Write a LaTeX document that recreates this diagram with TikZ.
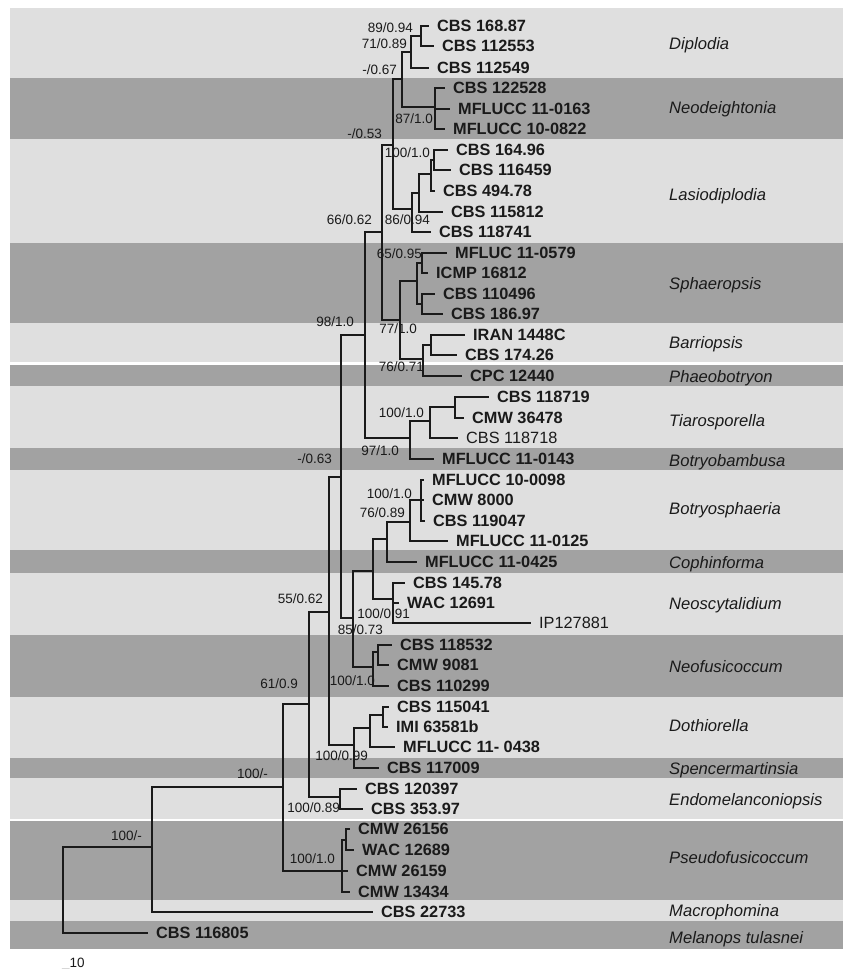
\documentclass[tikz,border=0pt]{standalone}
\usepackage{fontspec}
\setmainfont{Liberation Sans}
\definecolor{bandlight}{HTML}{DFDFDF}
\definecolor{banddark}{HTML}{A2A2A2}
\definecolor{ink}{HTML}{1A1A1A}

\begin{document}
\begin{tikzpicture}[x=1pt, y=-1pt,
  branch/.style={draw=ink, line width=1.3pt},
  taxon/.style={anchor=west, inner xsep=8pt, inner ysep=0pt, text=ink,
    font=\fontsize{16.3}{17}\selectfont\bfseries},
  plain/.style={taxon, font=\fontsize{16.3}{17}\selectfont},
  support/.style={anchor=base east, inner sep=0pt, text=ink,
    font=\fontsize{13.5}{15}\selectfont},
  genus/.style={anchor=base west, inner sep=0pt, text=ink,
    font=\fontsize{16.6}{18}\selectfont\itshape}]
 \useasboundingbox (0,0) rectangle (843,969);
 % bands
 \fill[bandlight] (10,8) rectangle (843,78);
 \fill[banddark] (10,78) rectangle (843,139);
 \fill[bandlight] (10,139) rectangle (843,243);
 \fill[banddark] (10,243) rectangle (843,323);
 \fill[bandlight] (10,323) rectangle (843,362);
 \fill[banddark] (10,364.5) rectangle (843,386);
 \fill[bandlight] (10,386) rectangle (843,448);
 \fill[banddark] (10,448) rectangle (843,470);
 \fill[bandlight] (10,470) rectangle (843,550);
 \fill[banddark] (10,550) rectangle (843,573);
 \fill[bandlight] (10,573) rectangle (843,635);
 \fill[banddark] (10,635) rectangle (843,697);
 \fill[bandlight] (10,697) rectangle (843,758);
 \fill[banddark] (10,758) rectangle (843,778);
 \fill[bandlight] (10,778) rectangle (843,819);
 \fill[banddark] (10,821) rectangle (843,900);
 \fill[bandlight] (10,900) rectangle (843,921);
 \fill[banddark] (10,921) rectangle (843,949);

 % genera
 \node[genus] (diplodia) at (669,49) {Diplodia};
 \node[genus] (neodeightonia) at (669,113) {Neodeightonia};
 \node[genus] (lasiodiplodia) at (669,200) {Lasiodiplodia};
 \node[genus] (sphaeropsis) at (669,289) {Sphaeropsis};
 \node[genus] (barriopsis) at (669,348) {Barriopsis};
 \node[genus] (phaeobotryon) at (669,382) {Phaeobotryon};
 \node[genus] (tiarosporella) at (669,426) {Tiarosporella};
 \node[genus] (botryobambusa) at (669,466) {Botryobambusa};
 \node[genus] (botryosphaeria) at (669,514) {Botryosphaeria};
 \node[genus] (cophinforma) at (669,568) {Cophinforma};
 \node[genus] (neoscytalidium) at (669,609) {Neoscytalidium};
 \node[genus] (neofusicoccum) at (669,672) {Neofusicoccum};
 \node[genus] (dothiorella) at (669,731) {Dothiorella};
 \node[genus] (spencermartinsia) at (669,774) {Spencermartinsia};
 \node[genus] (endomelanconiopsis) at (669,805) {Endomelanconiopsis};
 \node[genus] (pseudofusicoccum) at (669,863) {Pseudofusicoccum};
 \node[genus] (macrophomina) at (669,916) {Macrophomina};
 \node[genus] (melanops) at (669,943) {Melanops tulasnei};

 % strains
 \node[taxon] (d1) at (429,26) {CBS 168.87};
 \node[taxon] (d2) at (434,46) {CBS 112553};
 \node[taxon] (d3) at (429,68) {CBS 112549};
 \node[taxon] (nd1) at (445,88) {CBS 122528};
 \node[taxon] (nd2) at (450,109) {MFLUCC 11-0163};
 \node[taxon] (nd3) at (445,129) {MFLUCC 10-0822};
 \node[taxon] (la1) at (448,150) {CBS 164.96};
 \node[taxon] (la2) at (451,170) {CBS 116459};
 \node[taxon] (la3) at (435,191) {CBS 494.78};
 \node[taxon] (la4) at (443,212) {CBS 115812};
 \node[taxon] (la5) at (431,232) {CBS 118741};
 \node[taxon] (sp1) at (447,253) {MFLUC 11-0579};
 \node[taxon] (sp2) at (428,273) {ICMP 16812};
 \node[taxon] (sp3) at (435,294) {CBS 110496};
 \node[taxon] (sp4) at (443,314) {CBS 186.97};
 \node[taxon] (ba1) at (465,335) {IRAN 1448C};
 \node[taxon] (ba2) at (457,355) {CBS 174.26};
 \node[taxon] (ph1) at (462,376) {CPC 12440};
 \node[taxon] (ti1) at (489,397) {CBS 118719};
 \node[taxon] (ti2) at (464,418) {CMW 36478};
 \node[plain] (ti3) at (458,438) {CBS 118718};
 \node[taxon] (bb1) at (434,459) {MFLUCC 11-0143};
 \node[taxon] (bo1) at (424,480) {MFLUCC 10-0098};
 \node[taxon] (bo2) at (424,500) {CMW 8000};
 \node[taxon] (bo3) at (425,521) {CBS 119047};
 \node[taxon] (bo4) at (448,541) {MFLUCC 11-0125};
 \node[taxon] (co1) at (417,562) {MFLUCC 11-0425};
 \node[taxon] (ns1) at (405,583) {CBS 145.78};
 \node[taxon] (ns2) at (399,603) {WAC 12691};
 \node[plain] (ns3) at (531,623) {IP127881};
 \node[taxon] (nf1) at (392,645) {CBS 118532};
 \node[taxon] (nf2) at (389,665) {CMW 9081};
 \node[taxon] (nf3) at (389,686) {CBS 110299};
 \node[taxon] (do1) at (389,707) {CBS 115041};
 \node[taxon] (do2) at (388,727) {IMI 63581b};
 \node[taxon] (do3) at (395,747) {MFLUCC 11- 0438};
 \node[taxon] (sm1) at (379,768) {CBS 117009};
 \node[taxon] (en1) at (357,789) {CBS 120397};
 \node[taxon] (en2) at (363,809) {CBS 353.97};
 \node[taxon] (ps1) at (350,829) {CMW 26156};
 \node[taxon] (ps2) at (354,850) {WAC 12689};
 \node[taxon] (ps3) at (348,871) {CMW 26159};
 \node[taxon] (ps4) at (350,892) {CMW 13434};
 \node[taxon] (ma1) at (373,912) {CBS 22733};
 \node[taxon] (me1) at (148,933) {CBS 116805};

 % internal nodes
 \coordinate (dipB) at (421,36);
 \coordinate (dipA) at (411,52);
 \coordinate (neod) at (435,107);
 \coordinate (dipneo) at (402,79);
 \coordinate (lasD) at (434,160);
 \coordinate (lasC) at (431,174);
 \coordinate (lasB) at (419,193);
 \coordinate (lasA) at (412,209);
 \coordinate (upA) at (393,145);
 \coordinate (sphB) at (422,263);
 \coordinate (sphC) at (422,304);
 \coordinate (sphA) at (417,281);
 \coordinate (barB) at (431,345);
 \coordinate (barA) at (423,359);
 \coordinate (sphbar) at (400,320);
 \coordinate (up) at (382,232);
 \coordinate (tiaB) at (455,407);
 \coordinate (tiaA) at (430,421);
 \coordinate (tiabb) at (410,438);
 \coordinate (top) at (365,335);
 \coordinate (botB) at (421,500);
 \coordinate (botA) at (410,522);
 \coordinate (botcop) at (387,539);
 \coordinate (neos) at (393,599);
 \coordinate (mid) at (373,571);
 \coordinate (nfB) at (378,652);
 \coordinate (nfA) at (373,667);
 \coordinate (nine) at (353,618);
 \coordinate (core) at (341,477);
 \coordinate (dotB) at (383,715);
 \coordinate (dotA) at (370,728);
 \coordinate (dotsm) at (354,745);
 \coordinate (core2) at (329,612);
 \coordinate (endo) at (340,797);
 \coordinate (core3) at (309,704);
 \coordinate (pseB) at (346,840);
 \coordinate (pseA) at (342,871);
 \coordinate (core4) at (283,787);
 \coordinate (ingroup) at (152,847);
 \coordinate (root) at (63,890);

 % branches
 \draw[branch] (dipB) |- (d1.west) (dipB) |- (d2.west);
 \draw[branch] (dipA) |- (dipB) (dipA) |- (d3.west);
 \draw[branch] (neod) |- (nd1.west) (neod) |- (nd2.west) (neod) |- (nd3.west);
 \draw[branch] (dipneo) |- (dipA) (dipneo) |- (neod);
 \draw[branch] (lasD) |- (la1.west) (lasD) |- (la2.west);
 \draw[branch] (lasC) |- (lasD) (lasC) |- (la3.west);
 \draw[branch] (lasB) |- (lasC) (lasB) |- (la4.west);
 \draw[branch] (lasA) |- (lasB) (lasA) |- (la5.west);
 \draw[branch] (upA) |- (dipneo) (upA) |- (lasA);
 \draw[branch] (sphB) |- (sp1.west) (sphB) |- (sp2.west);
 \draw[branch] (sphC) |- (sp3.west) (sphC) |- (sp4.west);
 \draw[branch] (sphA) |- (sphB) (sphA) |- (sphC);
 \draw[branch] (barB) |- (ba1.west) (barB) |- (ba2.west);
 \draw[branch] (barA) |- (barB) (barA) |- (ph1.west);
 \draw[branch] (sphbar) |- (sphA) (sphbar) |- (barA);
 \draw[branch] (up) |- (upA) (up) |- (sphbar);
 \draw[branch] (tiaB) |- (ti1.west) (tiaB) |- (ti2.west);
 \draw[branch] (tiaA) |- (tiaB) (tiaA) |- (ti3.west);
 \draw[branch] (tiabb) |- (tiaA) (tiabb) |- (bb1.west);
 \draw[branch] (top) |- (up) (top) |- (tiabb);
 \draw[branch] (botB) |- (bo1.west) (botB) |- (bo2.west) (botB) |- (bo3.west);
 \draw[branch] (botA) |- (botB) (botA) |- (bo4.west);
 \draw[branch] (botcop) |- (botA) (botcop) |- (co1.west);
 \draw[branch] (neos) |- (ns1.west) (neos) |- (ns2.west) (neos) |- (ns3.west);
 \draw[branch] (mid) |- (botcop) (mid) |- (neos);
 \draw[branch] (nfB) |- (nf1.west) (nfB) |- (nf2.west);
 \draw[branch] (nfA) |- (nfB) (nfA) |- (nf3.west);
 \draw[branch] (nine) |- (mid) (nine) |- (nfA);
 \draw[branch] (core) |- (top) (core) |- (nine);
 \draw[branch] (dotB) |- (do1.west) (dotB) |- (do2.west);
 \draw[branch] (dotA) |- (dotB) (dotA) |- (do3.west);
 \draw[branch] (dotsm) |- (dotA) (dotsm) |- (sm1.west);
 \draw[branch] (core2) |- (core) (core2) |- (dotsm);
 \draw[branch] (endo) |- (en1.west) (endo) |- (en2.west);
 \draw[branch] (core3) |- (core2) (core3) |- (endo);
 \draw[branch] (pseB) |- (ps1.west) (pseB) |- (ps2.west);
 \draw[branch] (pseA) |- (pseB) (pseA) |- (ps3.west) (pseA) |- (ps4.west);
 \draw[branch] (core4) |- (core3) (core4) |- (pseA);
 \draw[branch] (ingroup) |- (core4) (ingroup) |- (ma1.west);
 \draw[branch] (root) |- (ingroup) (root) |- (me1.west);

 % support values
 \node[support] (s1) at (413,32) {89/0.94};
 \node[support] (s2) at (407,48) {71/0.89};
 \node[support] (s3) at (397,74) {-/0.67};
 \node[support] (s4) at (433,123) {87/1.0};
 \node[support] (s5) at (382,138) {-/0.53};
 \node[support] (s6) at (430,157) {100/1.0};
 \node[support] (s7) at (430,224) {86/0.94};
 \node[support] (s8) at (372,224) {66/0.62};
 \node[support] (s9) at (422,258) {65/0.95};
 \node[support] (s10) at (354,326) {98/1.0};
 \node[support] (s11) at (417,333) {77/1.0};
 \node[support] (s12) at (424,371) {76/0.71};
 \node[support] (s13) at (424,417) {100/1.0};
 \node[support] (s14) at (399,455) {97/1.0};
 \node[support] (s15) at (332,463) {-/0.63};
 \node[support] (s16) at (412,498) {100/1.0};
 \node[support] (s17) at (405,517) {76/0.89};
 \node[support] (s18) at (323,603) {55/0.62};
 \node[support] (s19) at (410,618) {100/0.91};
 \node[support] (s20) at (383,634) {85/0.73};
 \node[support] (s21) at (375,685) {100/1.0};
 \node[support] (s22) at (298,688) {61/0.9};
 \node[support] (s23) at (368,760) {100/0.99};
 \node[support] (s24) at (268,778) {100/-};
 \node[support] (s25) at (340,812) {100/0.89};
 \node[support] (s26) at (142,840) {100/-};
 \node[support] (s27) at (335,863) {100/1.0};

 % scale
 \node[support, anchor=base west] (scale) at (62,967) {\_10};
\end{tikzpicture}
\end{document}
